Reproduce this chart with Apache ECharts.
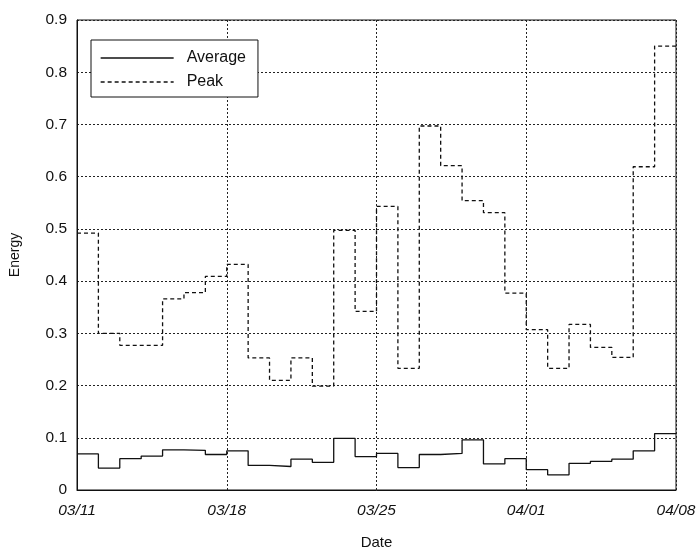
<!DOCTYPE html>
<html>
<head>
<meta charset="utf-8">
<script src="https://cdn.jsdelivr.net/npm/echarts@6/dist/echarts.min.js"></script>
<style>html,body{margin:0;padding:0;background:#fff;}#c{width:699px;height:555px;}</style>
</head>
<body>
<div id="c"></div>
<script>
// Day-by-day values, starting 03/11 (28 days up to 04/08)
const dates = ['03/11','03/12','03/13','03/14','03/15','03/16','03/17','03/18','03/19','03/20','03/21','03/22','03/23','03/24',
               '03/25','03/26','03/27','03/28','03/29','03/30','03/31','04/01','04/02','04/03','04/04','04/05','04/06','04/07'];
const average = [0.069,0.042,0.060,0.065,0.077,0.076,0.068,0.075,0.047,0.045,0.059,0.053,0.099,0.064,
                 0.070,0.043,0.068,0.070,0.096,0.050,0.060,0.039,0.029,0.051,0.055,0.059,0.075,0.108];
const peak = [0.492,0.300,0.277,0.277,0.366,0.378,0.409,0.432,0.253,0.210,0.253,0.199,0.497,0.342,
              0.543,0.233,0.697,0.621,0.554,0.531,0.377,0.307,0.233,0.317,0.273,0.254,0.619,0.850];
const xTickLabels = ['03/11','03/18','03/25','04/01','04/08'];
const yTickLabels = ['0','0.1','0.2','0.3','0.4','0.5','0.6','0.7','0.8','0.9'];

function stepData(vals){
  const d = vals.map((v,i)=>[i,v]);
  d.push([vals.length, vals[vals.length-1]]);
  return d;
}
const font = 'Liberation Sans, Arial, sans-serif';
const chart = echarts.init(document.getElementById('c'));
chart.setOption({
  animation:false,
  backgroundColor:'#fff',
  grid:{left:72,right:23,top:20,bottom:59,show:true,borderColor:'#111',borderWidth:1,backgroundColor:'transparent'},
  legend:{
    left:91,top:40,orient:'vertical',
    backgroundColor:'#fff',borderColor:'#111',borderWidth:1,borderRadius:0,
    padding:[10,12,7,9],itemGap:8,itemWidth:73,itemHeight:14,
    itemStyle:{opacity:0},
    lineStyle:{width:1.3,color:'#111'},
    textStyle:{fontFamily:font,fontSize:16,color:'#111',padding:[0,0,0,8]},
    data:['Average','Peak']
  },
  xAxis:{
    type:'value',min:0,max:28,interval:7,
    name:'Date',nameLocation:'middle',nameGap:45,
    nameTextStyle:{fontFamily:font,fontSize:15,color:'#111'},
    axisLine:{show:true,lineStyle:{color:'#111',width:1}},
    axisTick:{show:false},
    axisLabel:{margin:13,fontFamily:font,fontSize:15.5,fontStyle:'italic',color:'#111',
      formatter:v=>xTickLabels[Math.round(v/7)]},
    splitLine:{show:true,lineStyle:{color:'#222',type:[2,2],width:1}}
  },
  yAxis:{
    type:'value',min:0,max:0.9,interval:0.1,
    name:'Energy',nameLocation:'middle',nameGap:55,
    nameTextStyle:{fontFamily:font,fontSize:14,color:'#111'},
    axisLine:{show:true,lineStyle:{color:'#111',width:1}},
    axisTick:{show:false},
    axisLabel:{margin:10,fontFamily:font,fontSize:15.5,color:'#111',
      formatter:v=>yTickLabels[Math.round(v*10)]},
    splitLine:{show:true,lineStyle:{color:'#222',type:[2,2],width:1}}
  },
  series:[
    {name:'Average',type:'line',step:'end',showSymbol:false,symbol:'none',
     lineStyle:{color:'#111',width:1.3,type:'solid'},itemStyle:{color:'#111'},
     data:stepData(average)},
    {name:'Peak',type:'line',step:'end',showSymbol:false,symbol:'none',
     lineStyle:{color:'#111',width:1.3,type:[4,3]},itemStyle:{color:'#111'},
     data:stepData(peak)}
  ]
});
</script>
</body>
</html>
